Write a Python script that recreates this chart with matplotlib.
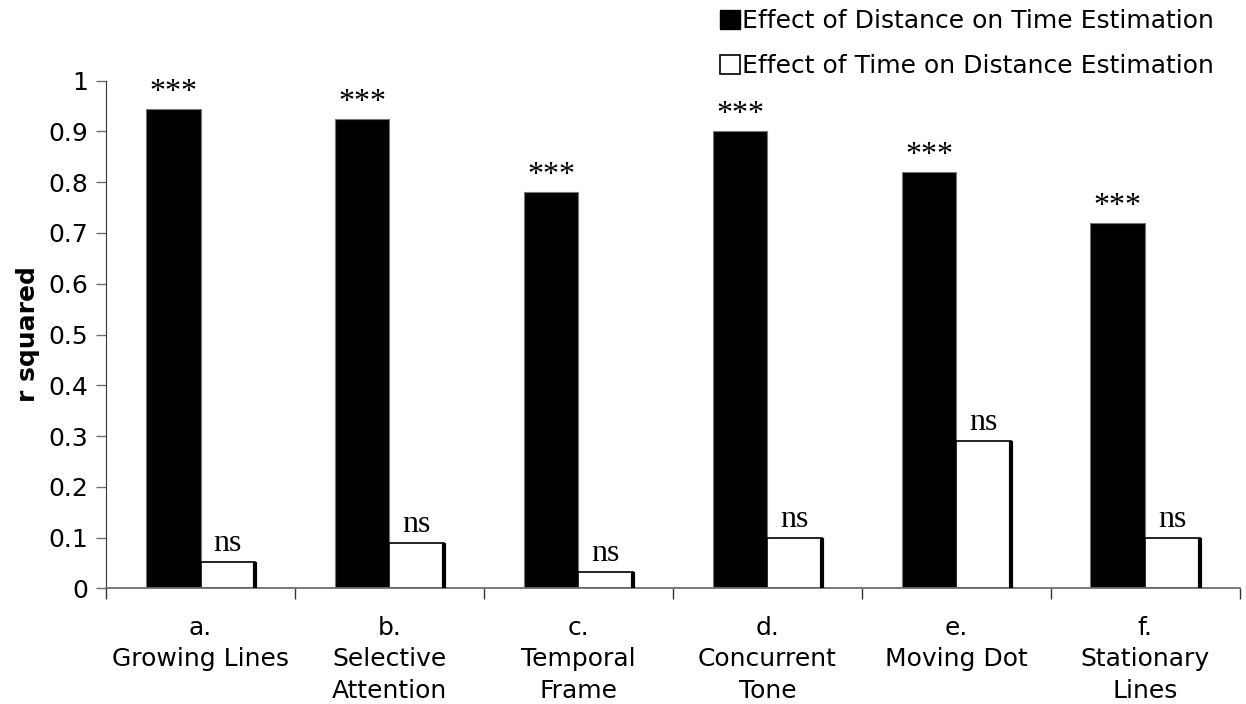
import matplotlib

matplotlib.use("Agg")

import matplotlib.pyplot as plt
import numpy as np
from matplotlib.patches import Patch

categories = [
    "a.\nGrowing Lines",
    "b.\nSelective\nAttention",
    "c.\nTemporal\nFrame",
    "d.\nConcurrent\nTone",
    "e.\nMoving Dot",
    "f.\nStationary\nLines",
]
dist_on_time = [0.945, 0.925, 0.78, 0.90, 0.82, 0.72]
time_on_dist = [0.052, 0.09, 0.032, 0.10, 0.29, 0.10]
dist_marks = ["***"] * 6
time_marks = ["ns"] * 6
series_labels = [
    "Effect of Distance on Time Estimation",
    "Effect of Time on Distance Estimation",
]
yticks = [0.0, 0.1, 0.2, 0.3, 0.4, 0.5, 0.6, 0.7, 0.8, 0.9, 1.0]
ytick_labels = ["0", "0.1", "0.2", "0.3", "0.4", "0.5", "0.6", "0.7", "0.8", "0.9", "1"]

AXIS = "#6e6e6e"
SERIF = "Liberation Serif"
FS = 18

plt.rcParams.update({"font.family": "DejaVu Sans", "font.size": FS})

fig = plt.figure(figsize=(12.46, 7.04), dpi=100, facecolor="white")
ax = fig.add_axes([0.0851, 0.1643, 0.9099, 0.7211])

x = np.arange(len(categories))
width = 0.29

bars_dark = ax.bar(x - width / 2, dist_on_time, width, color="black",
                   edgecolor="#777777", linewidth=0.8, zorder=2)
bars_light = ax.bar(x + width / 2, time_on_dist, width, color="white",
                    edgecolor="black", linewidth=1.2, zorder=2)

# thicker right edge on the white bars (shadow look)
for b in bars_light:
    ax.vlines(b.get_x() + b.get_width(), 0, b.get_height(), color="black",
              linewidth=3, zorder=3)

for b, mark in zip(bars_dark, dist_marks):
    ax.text(b.get_x() + b.get_width() / 2, b.get_height() + 0.004, mark,
            ha="center", va="bottom", fontsize=23, family=SERIF)
for b, mark in zip(bars_light, time_marks):
    ax.text(b.get_x() + b.get_width() / 2, b.get_height() + 0.008, mark,
            ha="center", va="bottom", fontsize=23, family=SERIF)

ax.set_xlim(-0.5, len(categories) - 0.5)
ax.set_ylim(0, 1)
ax.set_yticks(yticks)
ax.set_yticklabels(ytick_labels, fontsize=FS)
ax.set_xticks(x)
ax.set_xticklabels(categories, fontsize=FS, linespacing=1.38)
ax.set_xticks(np.arange(-0.5, len(categories)), minor=True)
ax.tick_params(axis="x", which="major", length=0, pad=20)
ax.tick_params(axis="x", which="minor", length=8, width=1, color="#333333")
ax.tick_params(axis="y", length=7, width=1, color=AXIS, pad=6)

for side in ("top", "right"):
    ax.spines[side].set_visible(False)
ax.spines["left"].set_color("#333333")
ax.spines["bottom"].set_color(AXIS)
ax.spines["bottom"].set_linewidth(1.3)

ax.set_ylabel("r squared", fontsize=FS, fontweight="bold", labelpad=6)

handles = [
    Patch(facecolor="black", edgecolor="black"),
    Patch(facecolor="white", edgecolor="black", linewidth=1.2),
]
fig.legend(handles, series_labels, loc="upper left",
           bbox_to_anchor=(720 / 1246, 1 - 9 / 704), frameon=False,
           fontsize=FS, handlelength=0.8, handleheight=0.8,
           handletextpad=0.1, labelspacing=0.85, borderpad=0,
           borderaxespad=0)

fig.savefig("out.png", dpi=100, facecolor="white")
